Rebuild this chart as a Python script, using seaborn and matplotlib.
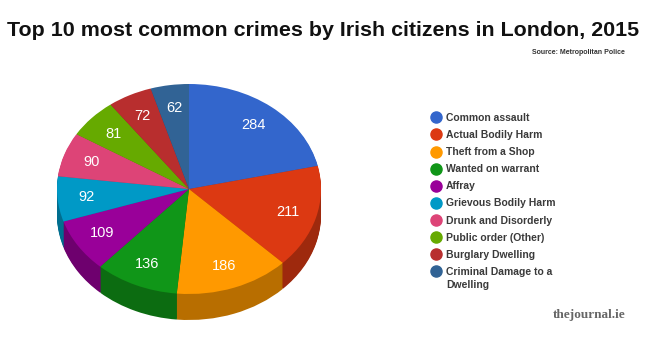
import matplotlib
matplotlib.use('Agg')
import matplotlib.pyplot as plt
from matplotlib.lines import Line2D
from matplotlib.colors import to_rgb
import seaborn as sns

crimes = ['Common assault', 'Actual Bodily Harm', 'Theft from a Shop', 'Wanted on warrant',
          'Affray', 'Grievous Bodily Harm', 'Drunk and Disorderly', 'Public order (Other)',
          'Burglary Dwelling', 'Criminal Damage to a\nDwelling']
counts = [284, 211, 186, 136, 109, 92, 90, 81, 72, 62]
colors = ['#3366CC', '#DC3912', '#FF9900', '#109618', '#990099',
          '#0099C6', '#DD4477', '#66AA00', '#B82E2E', '#316395']

sns.set_theme(style='white')
plt.rcParams['font.family'] = ['Liberation Sans', 'DejaVu Sans']

W, H = 650, 353
palette = sns.color_palette(colors)
dark = [tuple(c * 0.72 for c in to_rgb(col)) for col in palette]

fig = plt.figure(figsize=(W / 100, H / 100), dpi=100, facecolor='white')

# pie is squashed into an ellipse: 132 px wide radius, 105 px tall, 25 px thick
rx, ry, depth = 132, 105, 26
cx, cy = 189, 189
ax = fig.add_axes([(cx - rx) / W, 1 - (cy + ry + depth) / H, 2 * rx / W, (2 * ry + depth) / H])

for d in range(depth, 0, -1):
    ax.pie(counts, colors=dark, startangle=90, counterclock=False, center=(0, -d / ry),
           wedgeprops={'linewidth': 0})

total = sum(counts)
ax.pie(counts, colors=palette, startangle=90, counterclock=False,
       wedgeprops={'linewidth': 0},
       autopct=lambda p: f'{round(p * total / 100)}', pctdistance=0.78,
       textprops={'color': 'white', 'fontsize': 10.5})
ax.set_aspect('auto')
ax.set_xlim(-1, 1)
ax.set_ylim(-1 - depth / ry, 1)

fig.text(7 / W, 1 - 30 / H, 'Top 10 most common crimes by Irish citizens in London, 2015',
         fontsize=15.4, fontweight='bold', color='#111111', va='center', ha='left')
fig.text(625 / W, 1 - 52 / H, 'Source: Metropolitan Police',
         fontsize=5, fontweight='bold', color='#333333', va='center', ha='right')

# last label wraps but its dot stays on the first line, so the wrap goes in its own text
handles = [Line2D([], [], linestyle='none', marker='o', markersize=8, color=c) for c in palette]
first_lines = [c.split('\n')[0] for c in crimes]
fig.legend(handles, first_lines, loc='upper left', bbox_to_anchor=(429 / W, 1 - 113 / H),
           frameon=False, labelspacing=0.68, handletextpad=0.2,
           handlelength=1.4, borderpad=0, borderaxespad=0,
           prop={'family': 'Liberation Sans', 'weight': 'bold', 'size': 7.5},
           labelcolor='#3a3a3a')
fig.text(446 / W, 1 - 285 / H, crimes[-1].split('\n')[1], fontsize=7.5, fontweight='bold',
         color='#3a3a3a', va='center', ha='left')

fig.text(626 / W, 1 - 315 / H, 'thejournal.ie', family='Liberation Serif',
         fontsize=9.5, fontweight='bold', color='#666666', va='center', ha='right')

fig.savefig('out.png', dpi=100)
